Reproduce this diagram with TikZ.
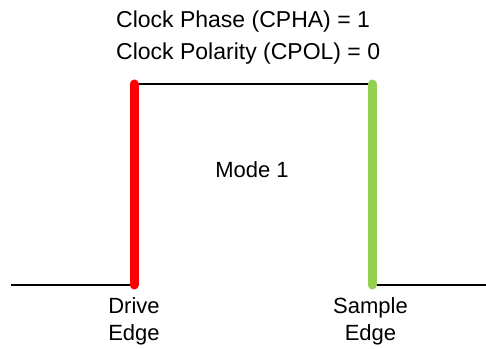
\documentclass[tikz,border=0pt]{standalone}
\usepackage{fontspec}
\setmainfont{Liberation Sans}
\tikzset{
  lbl/.style={inner sep=0pt, font=\fontsize{22}{29}\selectfont},
  toplbl/.style={inner sep=0pt, font=\fontsize{23}{30}\selectfont},
  wire/.style={line width=1.3pt, black},
  edgeline/.style={line width=9pt, line cap=round},
}
\definecolor{edgegreen}{RGB}{146,208,80}
\begin{document}
\begin{tikzpicture}[x=1pt,y=1pt]
\useasboundingbox (0,0) rectangle (486,348);
% waveform coordinates
\coordinate (L0) at (11,63);
\coordinate (D0) at (134,63);
\coordinate (D1) at (134,264);
\coordinate (S1) at (372,264);
\coordinate (S0) at (372,63);
\coordinate (R0) at (486,63);
\draw[wire] (L0) -- (D0);
\draw[wire] (D1) -- (S1);
\draw[wire] (S0) -- (R0);
\draw[edgeline, red] (D0) -- (D1);
\draw[edgeline, edgegreen] (S0) -- (S1);
% texts
\node[toplbl, anchor=base west] (cpha) at (116,320) {Clock Phase (CPHA) = 1};
\node[toplbl, anchor=base west] (cpol) at (116,288) {Clock Polarity (CPOL) = 0};
\node[lbl, anchor=base] (mode) at (252,170) {Mode 1};
\node[lbl, anchor=base] (drive) at (134,35) {Drive};
\node[lbl, anchor=base] (dedge) at (134,8) {Edge};
\node[lbl, anchor=base] (sample) at (370.5,35) {Sample};
\node[lbl, anchor=base] (sedge) at (370.5,8) {Edge};
\end{tikzpicture}
\end{document}
